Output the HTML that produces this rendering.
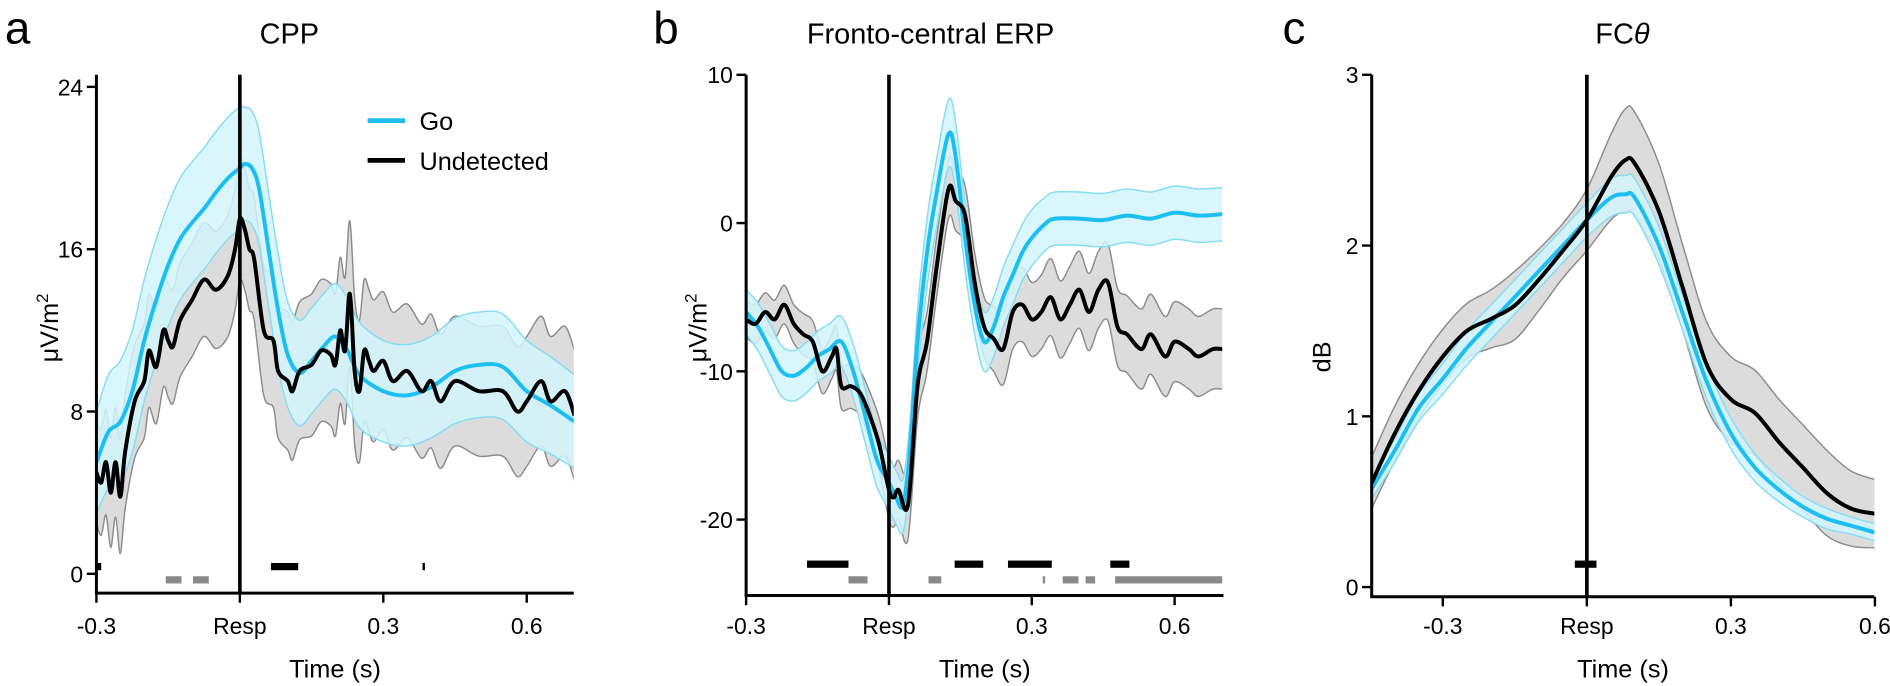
<!DOCTYPE html>
<html><head><meta charset="utf-8"><style>
body{margin:0;background:#fff;}
svg{display:block;font-family:"Liberation Sans",Arial,sans-serif;}
</style></head><body>
<svg id="fig" width="1890" height="686" viewBox="0 0 1568 569">
<text x="4" y="36" font-size="38">a</text>
<text x="542" y="36" font-size="38">b</text>
<text x="1064" y="36" font-size="38">c</text>
<text x="240" y="36" font-size="24" text-anchor="middle">CPP</text>
<text x="772" y="36" font-size="24" text-anchor="middle">Fronto-central ERP</text>
<text x="1346" y="36" font-size="24" text-anchor="middle">FC<tspan font-style="italic">θ</tspan></text>
<g>
<line x1="305" y1="100" x2="336" y2="100" stroke="#1cbfef" stroke-width="4"/>
<text x="348" y="108" font-size="21">Go</text>
<line x1="305" y1="133" x2="336" y2="133" stroke="#000" stroke-width="4"/>
<text x="348" y="141" font-size="21">Undetected</text>
</g>
</svg>
<script>
// ---- Panel A data (CPP) ----
const aGoT=[-0.3,-0.275,-0.25,-0.225,-0.2,-0.175,-0.15,-0.125,-0.1,-0.075,-0.05,-0.025,0,0.01,0.025,0.04,0.06,0.08,0.1,0.125,0.15,0.175,0.2,0.225,0.25,0.3,0.35,0.4,0.45,0.5,0.55,0.6,0.65,0.7];
const aGoV=[5.5,7,7.5,9,11.5,13.5,15.2,16.5,17.3,18,18.8,19.5,20,20.2,20,19,16,13,10.8,9.9,10.5,11.2,11.7,11,9.8,9,8.8,9.2,10,10.3,10.2,9,8.3,7.5];
const aGoE=[2.5,2.8,3,3,3,3,3,3,3,3,3,3,3,2.8,2.8,2.8,2.8,2.8,2.6,2.6,2.6,2.6,2.6,2.6,2.6,2.5,2.5,2.5,2.6,2.6,2.6,2.5,2.4,2.3];
const aUnT=[-0.3,-0.29,-0.28,-0.27,-0.26,-0.25,-0.24,-0.22,-0.2,-0.19,-0.175,-0.16,-0.15,-0.14,-0.125,-0.1,-0.075,-0.05,-0.025,-0.01,0,0.01,0.02,0.03,0.05,0.07,0.08,0.1,0.11,0.125,0.15,0.17,0.19,0.2,0.21,0.22,0.23,0.24,0.25,0.26,0.27,0.28,0.3,0.32,0.35,0.38,0.4,0.42,0.45,0.5,0.55,0.58,0.6,0.63,0.65,0.68,0.7];
const aUnV=[5,4.5,5.5,4,5.5,3.8,6,8.5,9.5,11,10.2,12,11.5,11.2,12.5,13.5,14.5,14,14.7,16,17.5,17,16,15.5,12,11.5,10,9.5,9,10,10.3,11,10.8,10.3,12,11,13.8,10,9,11,10.5,10,10.5,9.5,10,9,9.5,8.5,9.5,9,9,8,8.5,9.5,8.5,9,7.8];
const aUnE=[2.5,2.6,2.6,2.7,2.7,2.8,2.8,2.8,2.8,2.8,2.8,2.8,2.8,2.8,2.8,2.8,2.8,2.9,3,3,3,3,3,3,3.2,3.3,3.3,3.4,3.4,3.4,3.5,3.5,3.5,3.5,3.6,3.6,3.6,3.6,3.5,3.5,3.5,3.5,3.4,3.4,3.3,3.3,3.3,3.3,3.2,3.2,3.2,3.2,3.2,3.2,3.2,3.2,3.2];
const aYTicks=[0,8,16,24];
const aXTicks=[-0.3,0,0.3,0.6];
const aXLabels=["-0.3","Resp","0.3","0.6"];
const aSigBlack=[[-0.3,-0.29],[0.065,0.122],[0.382,0.386]];
const aSigGray=[[-0.155,-0.122],[-0.098,-0.065]];
// ---- Panel B data (Fronto-central ERP) ----
const bGoT=[-0.3,-0.275,-0.25,-0.225,-0.2,-0.175,-0.15,-0.125,-0.1,-0.075,-0.05,-0.025,0,0.015,0.03,0.045,0.06,0.08,0.1,0.125,0.14,0.16,0.18,0.2,0.22,0.24,0.26,0.28,0.3,0.33,0.35,0.4,0.45,0.5,0.55,0.6,0.65,0.7];
const bGoV=[-6,-7,-8.5,-10,-10.3,-9.8,-9,-8.5,-8,-10,-13,-16,-17.5,-18.5,-19,-15,-8,-2,2,6,4.5,-1,-5.5,-8,-7,-5,-3.5,-2,-1,0,0.3,0.3,0.2,0.5,0.3,0.7,0.5,0.6];
const bGoE=[1.5,1.6,1.7,1.7,1.7,1.7,1.7,1.7,1.7,1.8,1.8,1.8,1.8,1.8,1.8,2,2.2,2.3,2.3,2.3,2.3,2.2,2,2,2,2,2,1.9,1.9,1.8,1.8,1.8,1.8,1.8,1.8,1.8,1.8,1.8];
const bUnT=[-0.3,-0.28,-0.26,-0.24,-0.22,-0.2,-0.18,-0.16,-0.14,-0.12,-0.11,-0.1,-0.08,-0.06,-0.04,-0.02,0,0.01,0.02,0.04,0.06,0.08,0.1,0.125,0.14,0.16,0.18,0.2,0.22,0.24,0.26,0.28,0.3,0.32,0.34,0.36,0.38,0.4,0.42,0.44,0.46,0.48,0.5,0.53,0.55,0.58,0.6,0.63,0.65,0.68,0.7];
const bUnV=[-6.5,-6.8,-6,-6.5,-5.5,-6.8,-7.5,-8,-10,-9,-8.5,-11,-11,-11.5,-13,-15,-18,-18.5,-18,-19,-11,-8,-3,2.3,1.5,0.5,-4,-7,-7.8,-8.5,-6,-5.5,-6.5,-6,-5,-6.5,-5.5,-4.5,-6,-4.5,-4,-7,-7.5,-8.5,-7.5,-9,-8,-8.5,-9,-8.5,-8.5];
const bUnE=[1.2,1.3,1.3,1.3,1.3,1.3,1.4,1.4,1.5,1.5,1.5,1.5,1.5,1.5,1.6,1.8,2,2,2,2.3,2.2,2,2,2,2,2,2,2,2.2,2.4,2.5,2.5,2.5,2.5,2.6,2.6,2.6,2.6,2.6,2.6,2.6,2.6,2.6,2.7,2.7,2.7,2.7,2.7,2.7,2.7,2.7];
const bYTicks=[-20,-10,0,10];
const bXTicks=[-0.3,0,0.3,0.6];
const bXLabels=["-0.3","Resp","0.3","0.6"];
const bSigBlack=[[-0.172,-0.085],[0.138,0.198],[0.25,0.342],[0.465,0.505]];
const bSigGray=[[-0.085,-0.045],[0.083,0.11],[0.323,0.328],[0.365,0.398],[0.413,0.433],[0.475,0.7]];
// ---- Panel C data (FC theta) ----
const cGoT=[-0.45,-0.4,-0.35,-0.3,-0.25,-0.2,-0.15,-0.1,-0.05,0,0.05,0.08,0.1,0.15,0.2,0.25,0.3,0.35,0.4,0.45,0.5,0.55,0.6];
const cGoV=[0.57,0.8,1.05,1.22,1.4,1.55,1.7,1.85,2.0,2.15,2.28,2.3,2.28,2.0,1.6,1.2,0.9,0.7,0.57,0.47,0.4,0.36,0.32];
const cGoE=[0.06,0.07,0.08,0.09,0.1,0.1,0.1,0.1,0.1,0.1,0.11,0.11,0.11,0.11,0.1,0.1,0.09,0.08,0.07,0.06,0.06,0.05,0.05];
const cUnT=[-0.45,-0.4,-0.35,-0.3,-0.25,-0.2,-0.15,-0.1,-0.05,0,0.05,0.08,0.1,0.15,0.2,0.25,0.3,0.35,0.4,0.45,0.5,0.55,0.6];
const cUnV=[0.6,0.9,1.15,1.35,1.5,1.57,1.65,1.8,1.97,2.15,2.4,2.5,2.48,2.2,1.75,1.3,1.1,1.02,0.85,0.7,0.55,0.46,0.43];
const cUnE=[0.15,0.16,0.16,0.16,0.16,0.17,0.2,0.18,0.16,0.18,0.25,0.3,0.3,0.28,0.25,0.25,0.25,0.25,0.25,0.25,0.25,0.22,0.2];
const cYTicks=[0,1,2,3];
const cXTicks=[-0.3,0,0.3,0.6];
const cXLabels=["-0.3","Resp","0.3","0.6"];
const cSigBlack=[[-0.025,0.02]];
const cSigGray=[];

const NS="http://www.w3.org/2000/svg";
const svg=document.getElementById('fig');
function mk(tag,attrs,parent){const e=document.createElementNS(NS,tag);for(const k in attrs)e.setAttribute(k,attrs[k]);(parent||svg).appendChild(e);return e;}
function smooth(pts){
  let d='M'+pts[0][0].toFixed(1)+','+pts[0][1].toFixed(1);
  for(let i=0;i<pts.length-1;i++){
    const p0=pts[Math.max(0,i-1)],p1=pts[i],p2=pts[i+1],p3=pts[Math.min(pts.length-1,i+2)];
    const c1x=p1[0]+(p2[0]-p0[0])/6,c1y=p1[1]+(p2[1]-p0[1])/6;
    const c2x=p2[0]-(p3[0]-p1[0])/6,c2y=p2[1]-(p3[1]-p1[1])/6;
    d+=' C'+c1x.toFixed(1)+','+c1y.toFixed(1)+' '+c2x.toFixed(1)+','+c2y.toFixed(1)+' '+p2[0].toFixed(1)+','+p2[1].toFixed(1);
  }
  return d;
}

function panel(cfg){
  const g=mk('g',{});
  
  
  const sx=t=>cfg.x0+(t-cfg.t0)*(cfg.x1-cfg.x0)/(cfg.t1-cfg.t0);
  const sy=v=>cfg.y0+(v-cfg.v0)*(cfg.y1-cfg.y0)/(cfg.v1-cfg.v0);
  const clip='clip-'+cfg.name;
  const cp=mk('clipPath',{id:clip},g);
  mk('rect',{x:cfg.xl,y:cfg.top,width:cfg.xr-cfg.xl,height:cfg.axisY-cfg.top},cp);
  const data=mk('g',{'clip-path':'url(#'+clip+')'},g);
  function band(T,V,E,fill,stroke,nm){
    const up=T.map((t,i)=>[sx(t),sy(V[i]+E[i])]);
    const lo=T.map((t,i)=>[sx(t),sy(V[i]-E[i])]).reverse();
    const dUp=smooth(up),dLo=smooth(lo);
    const p=mk('path',{d:dUp+' L'+dLo.slice(1)+' Z',fill:fill,stroke:'none'},data);
    
    
    mk('path',{d:dUp,fill:'none',stroke:stroke,'stroke-width':1.2},data);
    mk('path',{d:dLo,fill:'none',stroke:stroke,'stroke-width':1.2},data);
  }
  function line(T,V,col,nm){
    const p=mk('path',{d:smooth(T.map((t,i)=>[sx(t),sy(V[i])])),fill:'none',stroke:col,'stroke-width':3.3,'stroke-linejoin':'round'},data);
    
    
  }
  band(cfg.unT,cfg.unV,cfg.unE,'#dcdcdc','#8c8c8c','undetected');
  band(cfg.goT,cfg.goV,cfg.goE,'rgba(210,245,253,0.85)','#86dcf3','go');
  line(cfg.goT,cfg.goV,'#1cbfef','go');
  line(cfg.unT,cfg.unV,'#000','undetected');
  cfg.sigB.forEach(s=>{const r=mk('rect',{x:sx(s[0]),y:cfg.sigBY-3,width:Math.max(2,sx(s[1])-sx(s[0])),height:6,fill:'#000'},g);
    });
  cfg.sigG.forEach(s=>{const r=mk('rect',{x:sx(s[0]),y:cfg.sigGY-3,width:Math.max(2,sx(s[1])-sx(s[0])),height:6,fill:'#8a8a8a'},g);
    });
  const ya=mk('line',{x1:cfg.xl,y1:cfg.top,x2:cfg.xl,y2:cfg.axisY+1,stroke:'#000','stroke-width':2.5},g);
  
  const xa=mk('line',{x1:cfg.xl-1,y1:cfg.axisY,x2:cfg.xr,y2:cfg.axisY,stroke:'#000','stroke-width':2.5},g);
  
  const rl=mk('line',{x1:sx(0),y1:cfg.top,x2:sx(0),y2:cfg.axisY,stroke:'#000','stroke-width':3},g);
  
  cfg.yTicks.forEach(v=>{mk('line',{x1:cfg.xl-8,y1:sy(v),x2:cfg.xl,y2:sy(v),stroke:'#000','stroke-width':2},g);
    const t=mk('text',{x:cfg.xl-11,y:sy(v)+7,'font-size':19,'text-anchor':'end'},g);t.textContent=String(v);
    });
  cfg.xTicks.forEach((v,i)=>{mk('line',{x1:sx(v),y1:cfg.axisY,x2:sx(v),y2:cfg.axisY+8,stroke:'#000','stroke-width':2},g);
    const t=mk('text',{x:sx(v),y:526,'font-size':19,'text-anchor':'middle'},g);t.textContent=cfg.xLabels[i];
    });
  const xt=mk('text',{x:(cfg.xl+cfg.xr)/2,y:562,'font-size':21,'text-anchor':'middle'},g);xt.textContent='Time (s)';
  
  const yt=mk('text',{x:0,y:0,'font-size':21,'text-anchor':'middle',transform:'translate('+cfg.ylabX+','+cfg.ylabY+') rotate(-90)'},g);
  if(cfg.ylab==='uv'){yt.textContent='μV/m';const s=mk('tspan',{dy:-8,'font-size':14},yt);s.textContent='2';}else yt.textContent=cfg.ylab;
  
}

panel({name:'panel-a-cpp',t0:-0.3,t1:0.3,x0:80,x1:318,v0:0,v1:24,y0:476,y1:72,xl:80,xr:476,top:62,axisY:492,
  goT:aGoT,goV:aGoV,goE:aGoE,unT:aUnT,unV:aUnV,unE:aUnE,yTicks:aYTicks,xTicks:aXTicks,xLabels:aXLabels,
  sigB:aSigBlack,sigG:aSigGray,sigBY:470,sigGY:481,ylab:'uv',ylabX:48,ylabY:272});
panel({name:'panel-b-erp',t0:-0.3,t1:0.3,x0:619,x1:856,v0:0,v1:10,y0:185,y1:62,xl:619,xr:1015,top:62,axisY:494,
  goT:bGoT,goV:bGoV,goE:bGoE,unT:bUnT,unV:bUnV,unE:bUnE,yTicks:bYTicks,xTicks:bXTicks,xLabels:bXLabels,
  sigB:bSigBlack,sigG:bSigGray,sigBY:468,sigGY:481,ylab:'uv',ylabX:586,ylabY:272});
panel({name:'panel-c-fctheta',t0:-0.3,t1:0.3,x0:1197,x1:1436,v0:0,v1:3,y0:487,y1:62,xl:1138,xr:1555,top:62,axisY:495,
  goT:cGoT,goV:cGoV,goE:cGoE,unT:cUnT,unV:cUnV,unE:cUnE,yTicks:cYTicks,xTicks:cXTicks,xLabels:cXLabels,
  sigB:cSigBlack,sigG:cSigGray,sigBY:468,sigGY:481,ylab:'dB',ylabX:1104,ylabY:296});
</script>
</body></html>
